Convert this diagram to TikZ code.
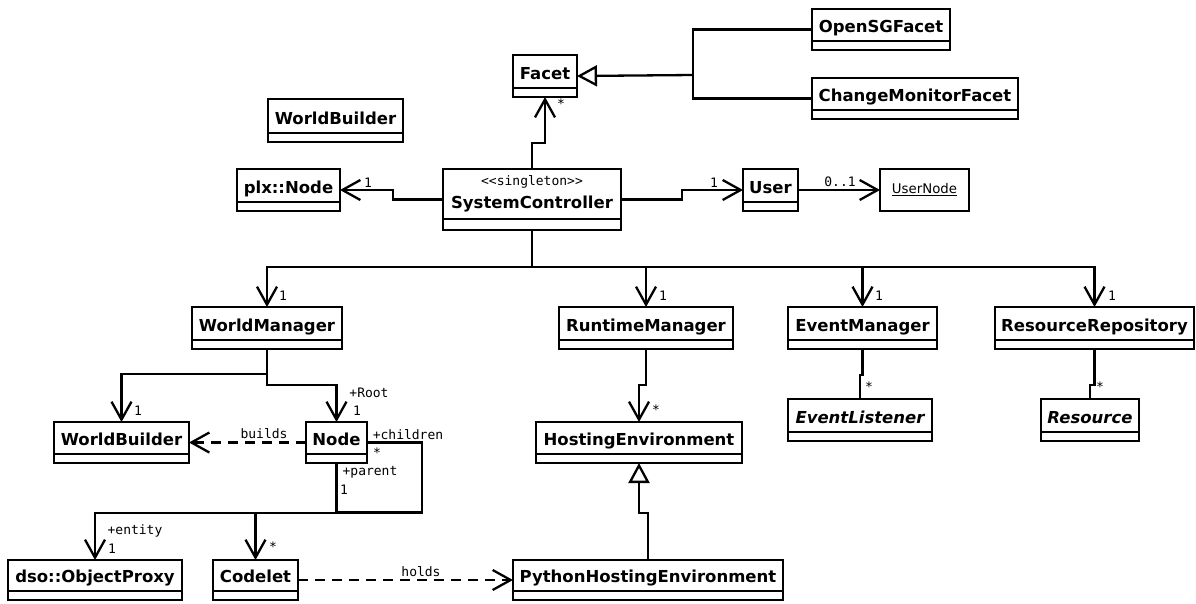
\documentclass[tikz,border=0pt]{standalone}
\usepackage{fontspec}
\setmainfont{DejaVu Sans}
\newfontfamily\monof{DejaVu Sans Mono}
\usetikzlibrary{arrows.meta,calc}
\tikzset{
  clsbox/.style={draw, line width=2.7pt, inner sep=0pt, outer sep=0pt, rectangle},
  sepline/.style={line width=2.4pt},
  clsname/.style={font=\fontsize{16.5}{19}\selectfont\bfseries, inner sep=0pt, anchor=base},
  absname/.style={font=\fontsize{16.5}{19}\selectfont\bfseries\itshape, inner sep=0pt, anchor=base},
  conn/.style={line width=2.3pt},
  assoc/.style={conn, -{Straight Barb[length=18pt,width=20pt]}},
  gen/.style={conn, -{Triangle[open,length=20pt,width=21pt,fill=white]}},
  dep/.style={conn, dash pattern=on 10pt off 7pt, -{Straight Barb[length=18pt,width=20pt]}},
  lab/.style={font=\monof\fontsize{13}{15}\selectfont, inner sep=0pt},
}
% [style]{name}{x1}{y1}{x2}{y2}{text}
\newcommand{\umlcls}[7][clsname]{%
  \node[clsbox, minimum width={#5-#3}, minimum height={#6-#4}] (#2) at ({(#3+#5)/2},{(#4+#6)/2}) {};
  \draw[sepline] ([yshift=9pt]#2.south west) -- ([yshift=9pt]#2.south east);
  \node[#1] (#2-t) at ([yshift=18pt]#2.south) {#7};
}
\begin{document}
\begin{tikzpicture}[x=1pt,y=-1pt]
\useasboundingbox (0,0) rectangle (1196,603);

% classes
\umlcls{facet}{513}{55}{577}{97}{Facet}
\umlcls{opensg}{812}{9}{950}{50}{OpenSGFacet}
\umlcls{cmf}{812}{78}{1018}{119}{ChangeMonitorFacet}
\umlcls{wbtop}{268}{99}{403}{142}{WorldBuilder}
\umlcls{plx}{237}{169}{340}{211}{plx::Node}
\umlcls{user}{743}{169}{798}{211}{User}
\umlcls{wm}{192}{307}{342}{349}{WorldManager}
\umlcls{rm}{559}{307}{733}{349}{RuntimeManager}
\umlcls{em}{788}{307}{937}{349}{EventManager}
\umlcls{rr}{995}{307}{1194}{349}{ResourceRepository}
\umlcls[absname]{el}{788}{399}{932}{441}{EventListener}
\umlcls[absname]{res}{1041}{399}{1139}{441}{Resource}
\umlcls{wb}{54}{422}{189}{463}{WorldBuilder}
\umlcls{node}{306}{422}{367}{463}{Node}
\umlcls{he}{536}{422}{742}{463}{HostingEnvironment}
\umlcls{dso}{8}{560}{182}{600}{dso::ObjectProxy}
\umlcls{codelet}{213}{560}{298}{600}{Codelet}
\umlcls{phe}{513}{560}{783}{600}{PythonHostingEnvironment}

% SystemController with stereotype
\node[clsbox, minimum width=178pt, minimum height=61pt] (sc) at (532,199.5) {};
\draw[sepline] ([yshift=11pt]sc.south west) -- ([yshift=11pt]sc.south east);
\node[lab, anchor=base] (sc-s) at (532,185) {<{}<singleton>{}>};
\node[clsname] (sc-t) at (532,208) {SystemController};

% UserNode (object)
\node[clsbox, minimum width=89pt, minimum height=42pt,
      font=\fontsize{13.3}{16}\selectfont] (usernode) at (924.5,190) {\underline{UserNode}};

% generalisation to Facet
\coordinate (fj) at (693,75);
\draw[conn] (opensg.west) -| (fj);
\draw[conn] (cmf.west) -| (fj);
\draw[gen] (fj) -- (facet.east);

% SystemController associations
\draw[assoc] (sc.north) -- ++(0,-26) -| (facet.south);
\node[lab] (l-facet) at (561,104) {*};
\draw[assoc] (sc.west) -- ++(-50,0) |- (plx.east);
\node[lab] (l-plx) at (368,183) {1};
\draw[assoc] (sc.east) -- ++(61,0) |- (user.west);
\node[lab] (l-user) at (714,183) {1};
\draw[assoc] (user.east) -- (usernode.west);
\node[lab] (l-un) at (840,182) {0..1};

\draw[conn] (sc.south) -- ++(0,37) coordinate (bus);
\draw[conn] (wm.north |- bus) -- (rr.north |- bus);
\draw[assoc] (bus) -| (wm.north);
\draw[assoc] (bus) -| (rm.north);
\draw[assoc] (bus) -| (em.north);
\draw[assoc] (bus) -| (rr.north);
\node[lab] (l-wm) at (283,296) {1};
\node[lab] (l-rm) at (663,296) {1};
\node[lab] (l-em) at (879,296) {1};
\node[lab] (l-rr) at (1112,296) {1};

% WorldManager
\draw[conn] (wm.south) -- ++(0,25) coordinate (wmj);
\draw[assoc] (wmj) -| (wb.north);
\draw[assoc] (wmj) -- ++(0,11) -| (node.north);
\node[lab] (l-wb) at (138,411) {1};
\node[lab] (l-root) at (369,393) {+Root};
\node[lab] (l-node) at (357,411) {1};

% builds
\draw[dep] (node.west) -- (wb.east);
\node[lab] (l-builds) at (264,434) {builds};

% Node self association
\draw[conn] (node.east) -| ++(55,70) -| (node.south);
\node[lab] (l-ch) at (408,435) {+children};
\node[lab] (l-chm) at (377,453) {*};
\node[lab] (l-par) at (370,472) {+parent};
\node[lab] (l-parm) at (344,490) {1};

% Node -> ObjectProxy / Codelet
\draw[conn] (node.south) -- ++(0,50) coordinate (nj);
\draw[assoc] (nj) -| (dso.north);
\draw[assoc] (nj) -| (codelet.north);
\node[lab] (l-ent) at (135,531) {+entity};
\node[lab] (l-entm) at (112,549) {1};
\node[lab] (l-cod) at (273,547) {*};

% holds
\draw[dep] (codelet.east) -- (phe.west);
\node[lab] (l-holds) at (421,572) {holds};

% Runtime -> Hosting
\draw[assoc] (rm.south) -- ++(0,36) -| (he.north);
\node[lab] (l-he) at (656,410) {*};
\draw[gen] (phe.north) -- ++(0,-47) -| (he.south);

% EventManager / ResourceRepository
\draw[conn] (em.south) -- ++(0,26) -| (el.north);
\node[lab] (l-el) at (869,387) {*};
\draw[conn] (rr.south) -- ++(0,36) -| (res.north);
\node[lab] (l-res) at (1100,387) {*};
\end{tikzpicture}
\end{document}
